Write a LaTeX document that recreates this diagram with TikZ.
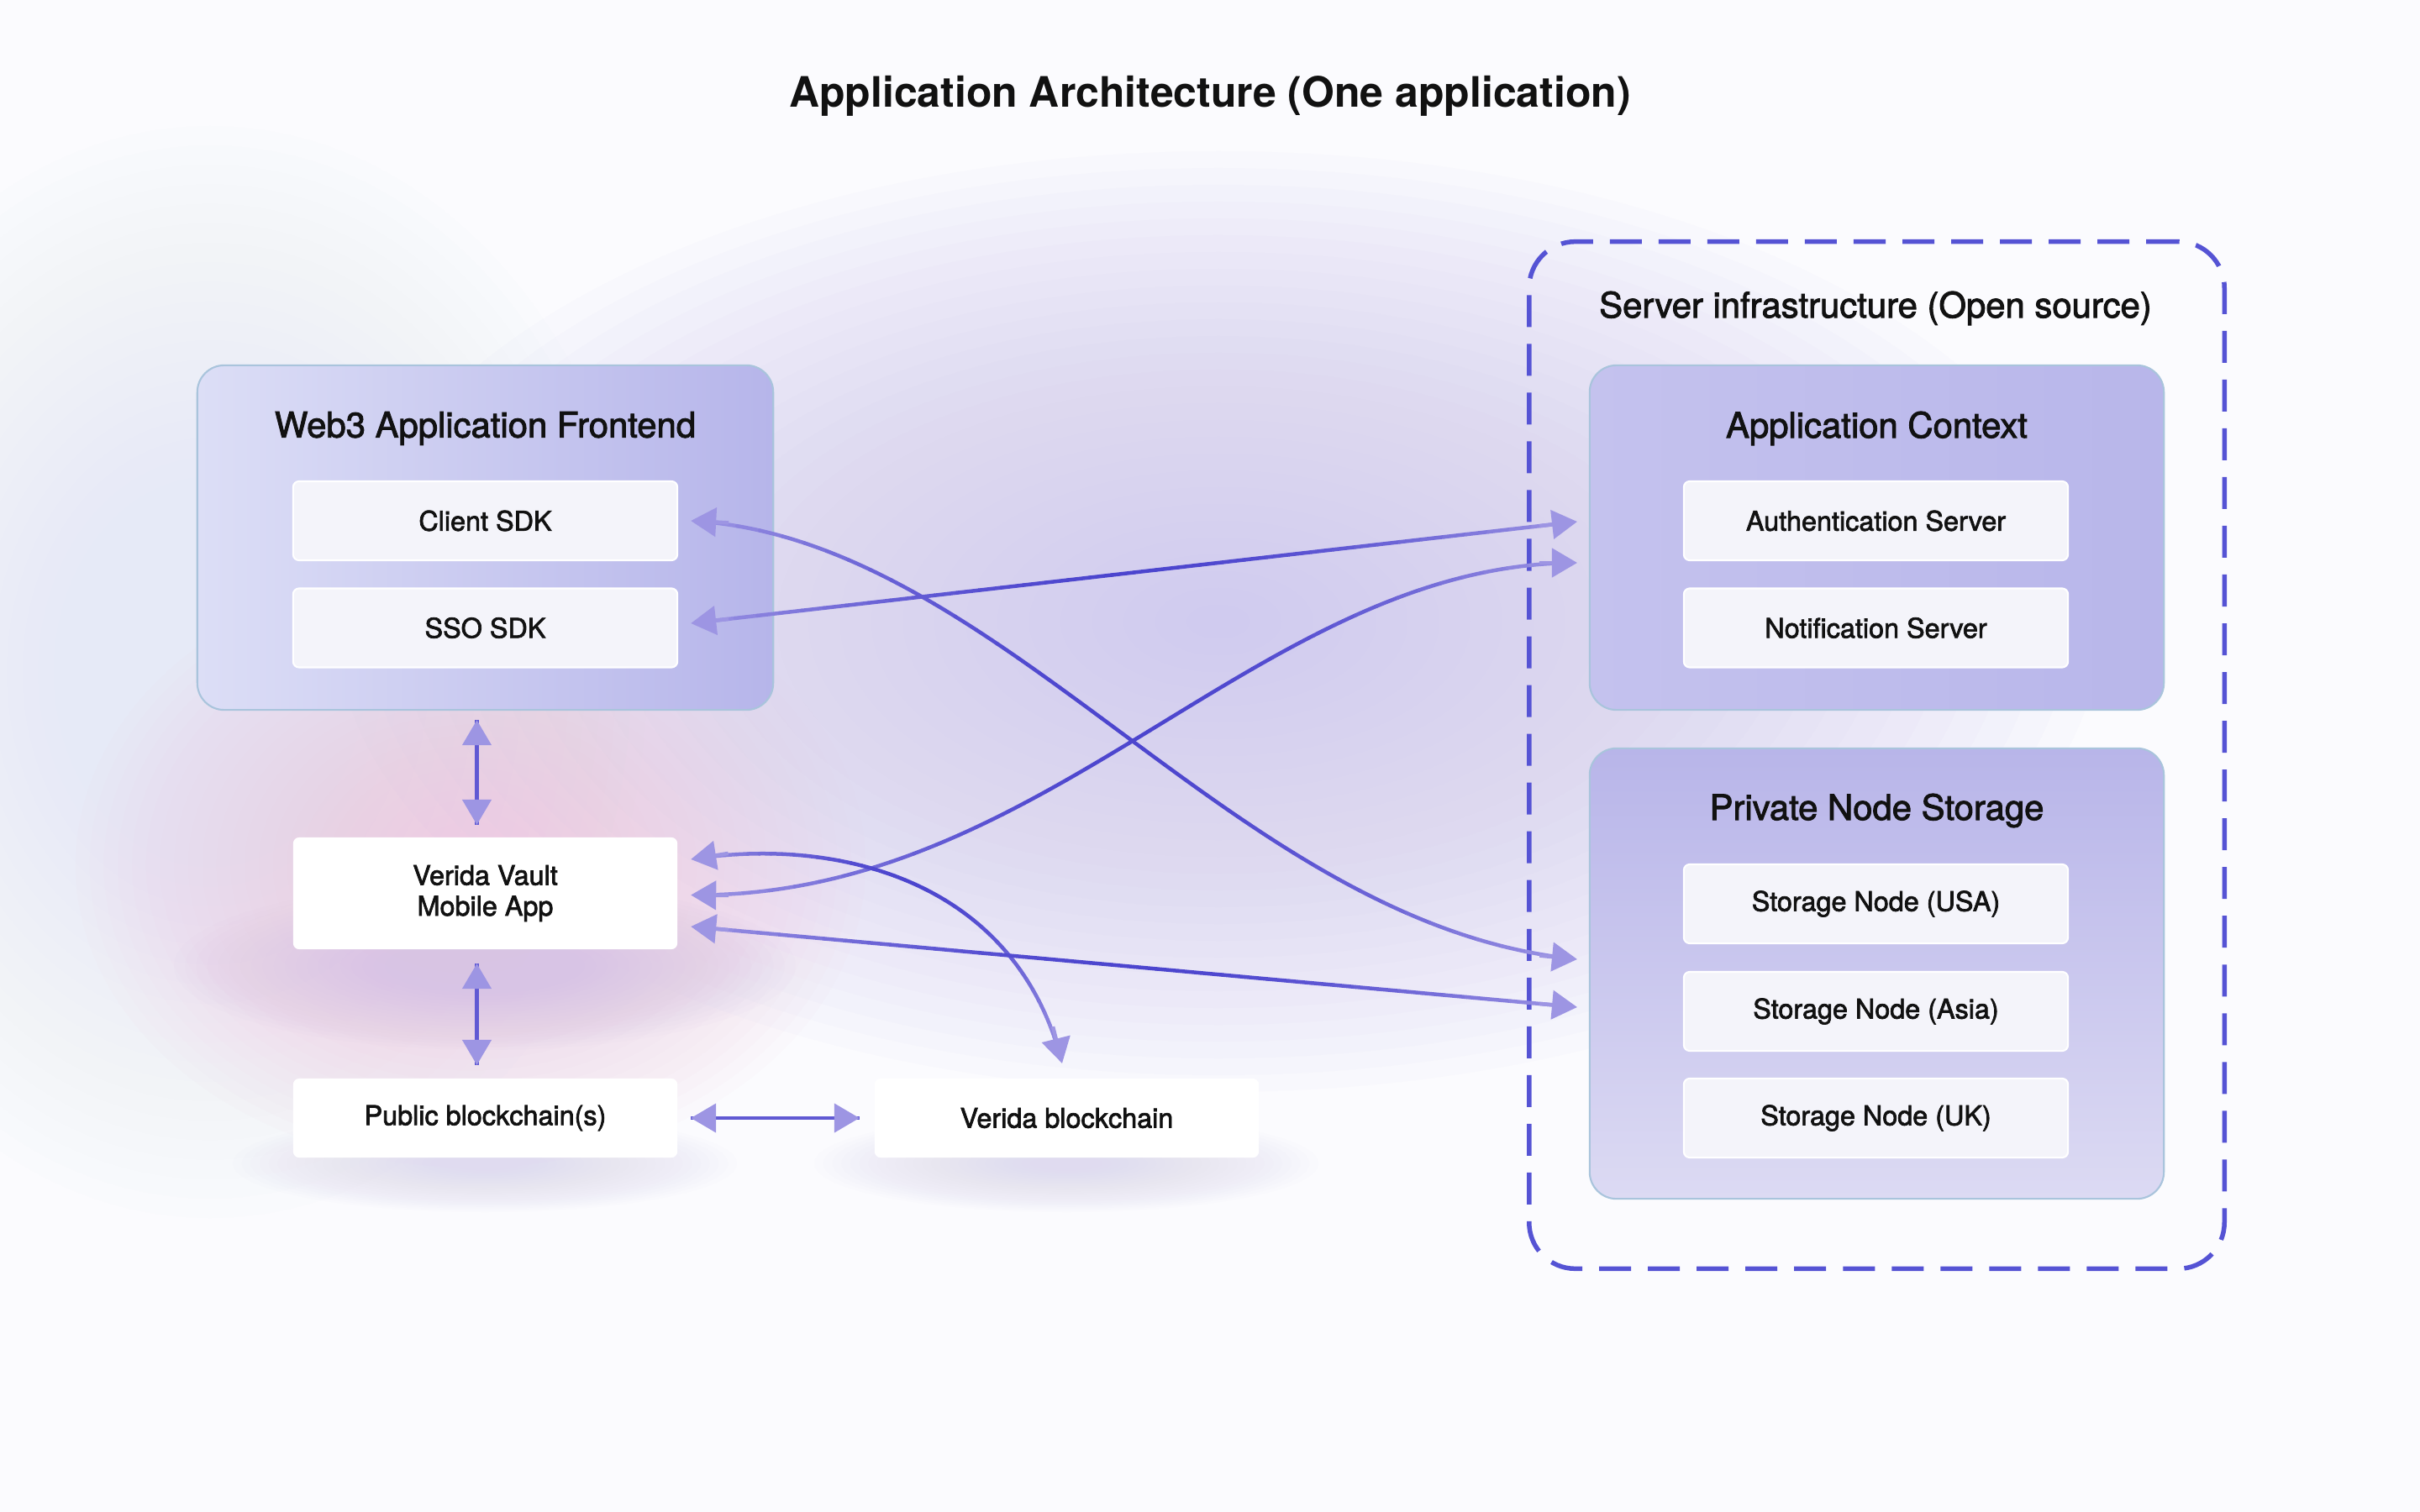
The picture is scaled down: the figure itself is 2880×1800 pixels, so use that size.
\documentclass[tikz,border=0pt]{standalone}
\usepackage{fontspec}
\setmainfont{TeX Gyre Heros}
\newfontfamily\lblfont{TeX Gyre Heros}[FakeBold=2.2]
\usetikzlibrary{arrows.meta,calc}
\definecolor{bgbase}{HTML}{FBFBFE}
\definecolor{lavglow}{HTML}{CFC7EF}
\definecolor{pinkglow}{HTML}{EFCCE3}
\definecolor{blueglow}{HTML}{E6EAF7}
\definecolor{shadowA}{HTML}{D8C4E5}
\definecolor{shadowB}{HTML}{E0DBF0}
\definecolor{txt}{HTML}{111111}
\definecolor{grpborder}{HTML}{A9C4DC}
\definecolor{webL}{HTML}{DCDEF6}
\definecolor{webR}{HTML}{B6B5EA}
\definecolor{ctxL}{HTML}{C4C2EE}
\definecolor{ctxR}{HTML}{B8B6EA}
\definecolor{pnsT}{HTML}{B8B5E9}
\definecolor{pnsB}{HTML}{DCDAF3}
\definecolor{inboxfill}{HTML}{F4F4FA}
\definecolor{dashcol}{HTML}{5553D4}
\definecolor{arrlight}{HTML}{9D95E3}
\definecolor{arrdark}{HTML}{4C45CE}
\colorlet{arrmid}{arrdark!75!arrlight}
% soft glow: stacked translucent ellipses
\newcommand\glow[5]{%
  \foreach \k in {1,...,28}{%
    \fill[#1, opacity=0.055] (#2,#3) ellipse ({#4*(1-(\k-1)/28)} and {#5*(1-(\k-1)/28)});
  }%
}
% gradient stroke along a cubic curve given by four pgf points
\newcommand\gradcurve[4]{%
  \foreach \i in {1,...,38}{%
    \pgfmathsetmacro\ta{\i/40}%
    \pgfmathsetmacro\tb{(\i+1)/40}%
    \pgfmathsetmacro\mixv{100*sin(180*(\i+0.5)/40)}%
    \colorlet{segc}{arrdark!\mixv!arrlight}%
    \begin{pgfscope}%
      \pgfsetlinewidth{0.045cm}\pgfsetroundcap
      \pgfsetstrokecolor{segc}%
      \pgfpathcurvebetweentime{\ta}{\tb}{#1}{#2}{#3}{#4}%
      \pgfusepath{stroke}%
    \end{pgfscope}%
  }%
}
\newcommand\gradcurvenamed[4]{%
  \gradcurve{\pgfpointanchor{#1}{center}}{\pgfpointanchor{#2}{center}}{\pgfpointanchor{#3}{center}}{\pgfpointanchor{#4}{center}}%
}
% gradient stroke along a straight connector between two named coordinates
\newcommand\gradline[2]{%
  \foreach \i in {1,...,38}{%
    \pgfmathsetmacro\ta{\i/40}%
    \pgfmathsetmacro\tb{(\i+1)/40}%
    \pgfmathsetmacro\mixv{100*sin(180*(\i+0.5)/40)}%
    \colorlet{segc}{arrdark!\mixv!arrlight}%
    \draw[segc, line width=0.045cm, line cap=round] ($(#1)!\ta!(#2)$) -- ($(#1)!\tb!(#2)$);
  }%
}
\begin{document}
\begin{tikzpicture}[x=0.01cm, y=-0.01cm,
  grptitle/.style={font=\fontsize{11.9}{14}\selectfont\lblfont, text=txt, inner sep=0pt},
  grp/.style={rounded corners=0.32cm, draw=grpborder, line width=0.6pt, inner sep=0pt},
  inbox/.style={rounded corners=0.07cm, fill=inboxfill, draw=white, line width=0.6pt,
    minimum width=4.57cm, minimum height=0.94cm, inner sep=0pt, align=center,
    font=\fontsize{9.2}{10.4}\selectfont\lblfont, text=txt},
  wbox/.style={inbox, fill=white, draw=none},
  tipA/.tip={Triangle[length=0.3cm, width=0.34cm]},
  tipline/.style={draw=arrlight, fill=arrlight, line width=0.045cm, -{tipA}},
  shortconn/.style={draw=arrmid, line width=0.045cm}
]
\useasboundingbox (0,0) rectangle (2880,1800);
% background
\fill[bgbase] (0,0) rectangle (2880,1800);
\glow{blueglow}{250}{800}{520}{650}
\glow{lavglow}{1450}{740}{1050}{560}
\glow{pinkglow}{560}{1030}{470}{360}

% title
\node[font=\fontsize{14.2}{17}\selectfont\bfseries, text=txt] (title) at (1440,114) {Application Architecture (One application)};

% left group
\node[grp, left color=webL, right color=webR, minimum width=6.85cm, minimum height=4.10cm] (web3) at (577.5,640) {};
\node[grptitle] (web3t) at (577.5,510) {Web3 Application Frontend};
\node[inbox] (client) at (577.5,620) {Client SDK};
\node[inbox] (sso) at (577.5,747.5) {SSO SDK};

% shadows
\glow{shadowA}{577}{1150}{370}{100}
\glow{shadowB}{577}{1385}{300}{58}
\glow{shadowB}{1269}{1385}{300}{58}

\node[wbox, minimum height=1.33cm] (vault) at (577.5,1063.5) {Verida Vault\\Mobile App};
\node[wbox] (public) at (577.5,1331) {Public blockchain(s)};
\node[wbox] (verida) at (1269.5,1331) {Verida blockchain};

% server infrastructure
\node[draw=dashcol, line width=0.055cm, dash pattern=on 0.38cm off 0.2cm, rounded corners=0.55cm,
  minimum width=8.27cm, minimum height=12.22cm, inner sep=0pt] (infra) at (2233.5,899) {};
\node[grptitle] (infrat) at (2232,367) {Server infrastructure (Open source)};

\node[grp, left color=ctxL, right color=ctxR, minimum width=6.83cm, minimum height=4.10cm] (ctx) at (2233.5,640) {};
\node[grptitle] (ctxt) at (2233.5,510) {Application Context};
\node[inbox] (auth) at (2232.5,620) {Authentication Server};
\node[inbox] (notif) at (2232.5,747.5) {Notification Server};

\node[grp, top color=pnsT, bottom color=pnsB, minimum width=6.83cm, minimum height=5.36cm] (pns) at (2233.5,1159) {};
\node[grptitle] (pnst) at (2233.5,965) {Private Node Storage};
\node[inbox] (usa) at (2232.5,1076) {Storage Node (USA)};
\node[inbox] (asia) at (2232.5,1204) {Storage Node (Asia)};
\node[inbox] (uk) at (2232.5,1331) {Storage Node (UK)};

% connector end points
\coordinate (eAuthA) at (1877,621);
\coordinate (eAuthB) at (1877,670);
\coordinate (eUSA) at (1877,1142);
\coordinate (eAsia) at (1877,1199);
\coordinate (sClient) at ([xshift=0.15cm]client.east);
\coordinate (sSSO) at ([xshift=0.15cm,yshift=0.055cm]sso.east);
\coordinate (sVaultA) at ([xshift=0.15cm,yshift=0.405cm]vault.east);
\coordinate (sVaultB) at ([xshift=0.15cm,yshift=-0.02cm]vault.east);
\coordinate (sVaultC) at ([xshift=0.15cm,yshift=-0.395cm]vault.east);
\coordinate (eVerida) at ([xshift=-0.055cm,yshift=0.17cm]verida.north);
\coordinate (v1a) at ([xshift=-0.1cm,yshift=-0.11cm]web3.south);
\coordinate (v1b) at ([xshift=-0.1cm,yshift=0.14cm]vault.north);
\coordinate (v2a) at ([xshift=-0.1cm,yshift=-0.16cm]vault.south);
\coordinate (v2b) at ([xshift=-0.1cm,yshift=0.15cm]public.north);
\coordinate (h1a) at ([xshift=0.15cm]public.east);
\coordinate (h1b) at ([xshift=-0.17cm]verida.west);
\coordinate (cA1) at (1194,640);  \coordinate (cA2) at (1469,1102);
\coordinate (cB1) at (1250,1070); \coordinate (cB2) at (1500,670);
\coordinate (cC1) at (1000,995);  \coordinate (cC2) at (1210,1050);

% connectors: gradient strokes
\gradcurvenamed{sClient}{cA1}{cA2}{eUSA}
\gradcurvenamed{sVaultB}{cB1}{cB2}{eAuthB}
\gradcurvenamed{sVaultA}{cC1}{cC2}{eVerida}
\gradline{sSSO}{eAuthA}
\gradline{sVaultC}{eAsia}
\draw[shortconn] (v1a) -- (v1b);
\draw[shortconn] (v2a) -- (v2b);
\draw[shortconn] (h1a) -- (h1b);

% arrow tips at both ends of every connector
\draw[tipline] ($(sClient)!0.45cm!(cA1)$) -- (sClient);
\draw[tipline] ($(eUSA)!0.45cm!(cA2)$) -- (eUSA);
\draw[tipline] ($(sVaultB)!0.45cm!(cB1)$) -- (sVaultB);
\draw[tipline] ($(eAuthB)!0.45cm!(cB2)$) -- (eAuthB);
\draw[tipline] ($(sVaultA)!0.45cm!(cC1)$) -- (sVaultA);
\draw[tipline] ($(eVerida)!0.45cm!(cC2)$) -- (eVerida);
\draw[tipline] ($(sSSO)!0.45cm!(eAuthA)$) -- (sSSO);
\draw[tipline] ($(eAuthA)!0.45cm!(sSSO)$) -- (eAuthA);
\draw[tipline] ($(sVaultC)!0.45cm!(eAsia)$) -- (sVaultC);
\draw[tipline] ($(eAsia)!0.45cm!(sVaultC)$) -- (eAsia);
\draw[tipline] ($(v1a)!0.3cm!(v1b)$) -- (v1a);
\draw[tipline] ($(v1b)!0.3cm!(v1a)$) -- (v1b);
\draw[tipline] ($(v2a)!0.3cm!(v2b)$) -- (v2a);
\draw[tipline] ($(v2b)!0.3cm!(v2a)$) -- (v2b);
\draw[tipline] ($(h1a)!0.3cm!(h1b)$) -- (h1a);
\draw[tipline] ($(h1b)!0.3cm!(h1a)$) -- (h1b);
\end{tikzpicture}
\end{document}
